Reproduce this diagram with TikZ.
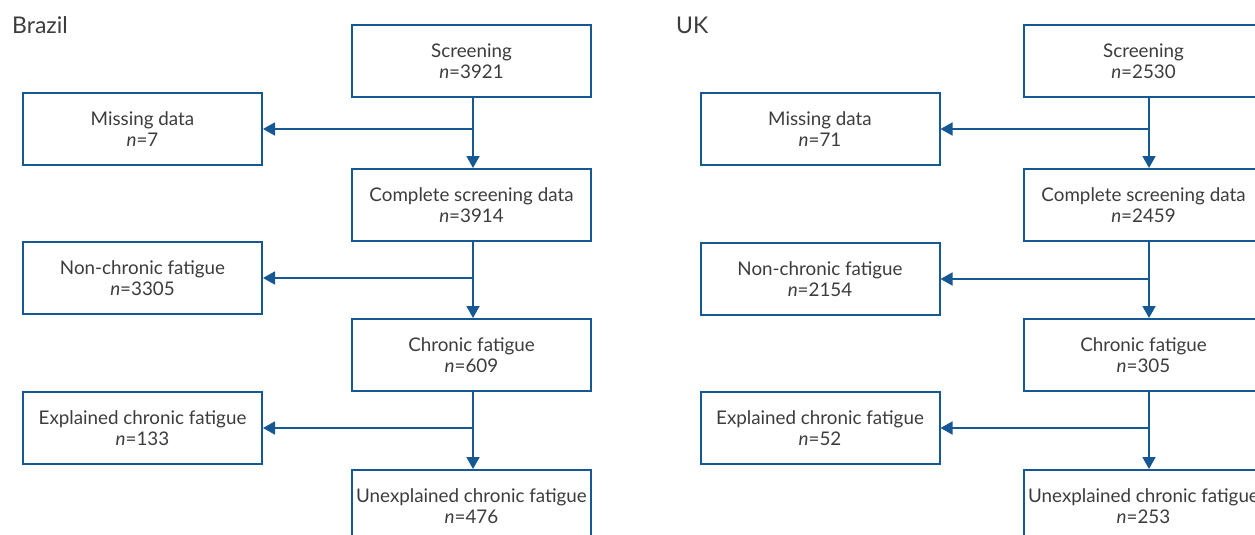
\documentclass[tikz,border=0pt]{standalone}
\usepackage{fontspec}
\setmainfont{Lato}
\usetikzlibrary{arrows.meta}
\definecolor{lineblue}{RGB}{22,88,148}
\definecolor{txtgray}{RGB}{60,60,60}
\tikzset{
  flowbox/.style={draw=lineblue, line width=2pt, minimum width=239pt, minimum height=72pt,
    inner sep=0pt, align=center, text=txtgray, font=\fontsize{18.8}{21}\selectfont},
  flowarr/.style={draw=lineblue, line width=1.8pt, -{Triangle[width=13pt,length=12pt]}},
  paneltitle/.style={anchor=west, text=txtgray, font=\fontsize{23}{27}\selectfont, inner sep=0pt}
}
\begin{document}
\begin{tikzpicture}[x=1pt,y=-1pt]
\useasboundingbox (0,0) rectangle (1255,535);
\clip (0,0) rectangle (1255,535);
% Brazil
\node[paneltitle] (tbr) at (12,25) {Brazil};
\node[flowbox] (bscr) at (471.5,61) {Screening\\\textit{n}=3921};
\node[flowbox] (bmis) at (142.5,129) {Missing data\\\textit{n}=7};
\node[flowbox] (bcom) at (471.5,205) {Complete screening data\\\textit{n}=3914};
\node[flowbox] (bnon) at (142.5,278) {Non-chronic fatigue\\\textit{n}=3305};
\node[flowbox] (bchr) at (471.5,355) {Chronic fatigue\\\textit{n}=609};
\node[flowbox] (bexp) at (142.5,428) {Explained chronic fatigue\\\textit{n}=133};
\node[flowbox] (bune) at (471.5,506) {Unexplained chronic fatigue\\\textit{n}=476};
\coordinate (bt1) at (473,129);
\coordinate (bt2) at (473,278);
\coordinate (bt3) at (473,428);
\draw[flowarr] (bt1 |- bscr.south) -- (bt1 |- bcom.north);
\draw[flowarr] (bt1) -- (bmis.east);
\draw[flowarr] (bt2 |- bcom.south) -- (bt2 |- bchr.north);
\draw[flowarr] (bt2) -- (bnon.east);
\draw[flowarr] (bt3 |- bchr.south) -- (bt3 |- bune.north);
\draw[flowarr] (bt3) -- (bexp.east);
% UK
\node[paneltitle] (tuk) at (676,25) {UK};
\node[flowbox] (uscr) at (1143.5,61) {Screening\\\textit{n}=2530};
\node[flowbox] (umis) at (820,129) {Missing data\\\textit{n}=71};
\node[flowbox] (ucom) at (1143.5,205) {Complete screening data\\\textit{n}=2459};
\node[flowbox] (unon) at (820,279) {Non-chronic fatigue\\\textit{n}=2154};
\node[flowbox] (uchr) at (1143.5,355) {Chronic fatigue\\\textit{n}=305};
\node[flowbox] (uexp) at (820,428) {Explained chronic fatigue\\\textit{n}=52};
\node[flowbox] (uune) at (1143.5,506) {Unexplained chronic fatigue\\\textit{n}=253};
\coordinate (ut1) at (1149,129);
\coordinate (ut2) at (1149,279);
\coordinate (ut3) at (1149,428);
\draw[flowarr] (ut1 |- uscr.south) -- (ut1 |- ucom.north);
\draw[flowarr] (ut1) -- (umis.east);
\draw[flowarr] (ut2 |- ucom.south) -- (ut2 |- uchr.north);
\draw[flowarr] (ut2) -- (unon.east);
\draw[flowarr] (ut3 |- uchr.south) -- (ut3 |- uune.north);
\draw[flowarr] (ut3) -- (uexp.east);
\end{tikzpicture}
\end{document}
